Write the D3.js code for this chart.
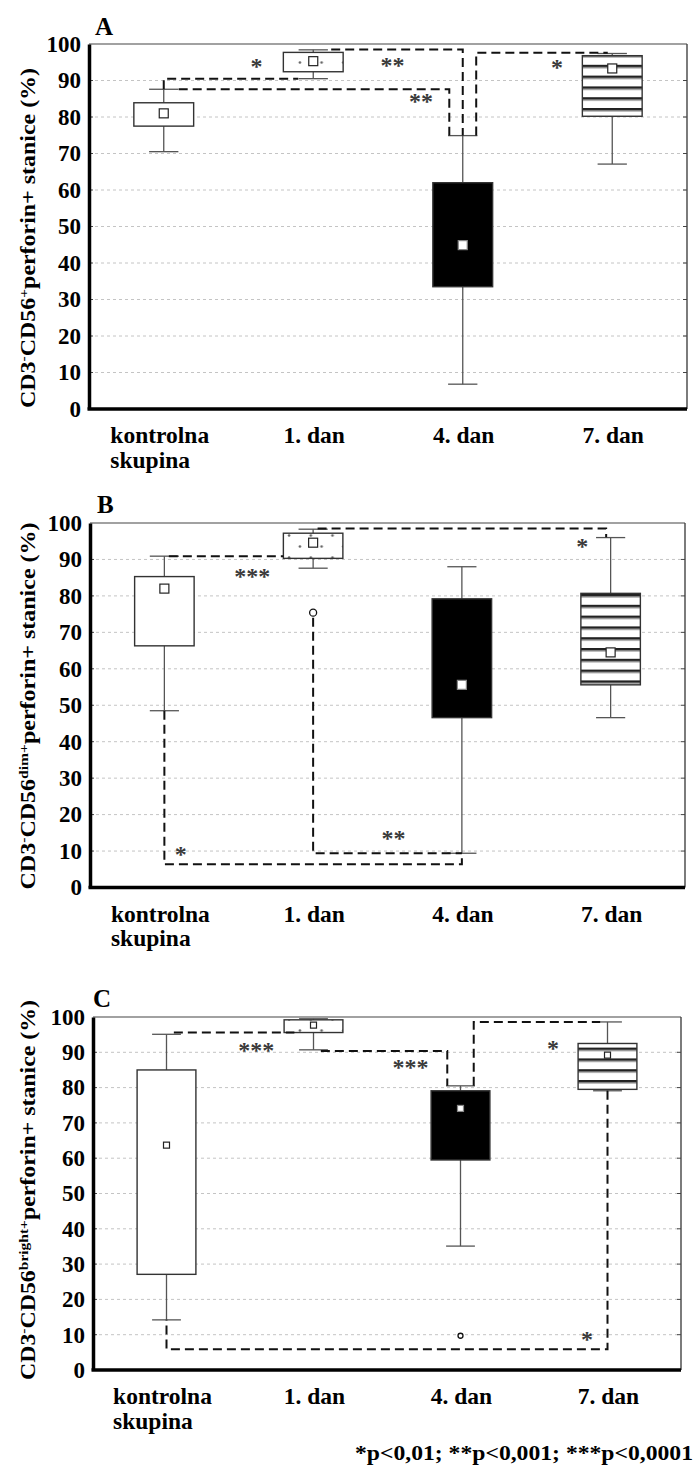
<!DOCTYPE html>
<html><head><meta charset="utf-8">
<script src="https://cdn.jsdelivr.net/npm/d3@7"></script>
<style>body{margin:0;background:#fff}svg{display:block}</style>
</head><body>
<svg id="chart" width="695" height="1467"></svg>
<script>
// ---------- DATA ----------
const categories = ["kontrolna skupina", "1. dan", "4. dan", "7. dan"];
const yTicks = [0, 10, 20, 30, 40, 50, 60, 70, 80, 90, 100];

// Panel A: CD3-CD56+perforin+
const aLow  = [70.5, 90.5, 6.8, 67.1];
const aQ1   = [77.5, 92.4, 33.5, 80.2];
const aQ3   = [83.9, 97.7, 62.0, 96.8];
const aHigh = [87.6, 98.4, 74.9, 97.4];
const aMean = [81.0, 95.3, 44.9, 93.3];
const aOutliers = [];
// brackets: path in [category index, value], mark at [category index, value]
const aBrackets = [
  {path: [[0, 87.6], [0, 90.5], [0.9, 90.5]], mark: "*", at: [0.62, 94.8]},
  {path: [[0.1, 87.6], [1.91, 87.6], [1.91, 74.9]], mark: "**", at: [1.72, 85.2]},
  {path: [[1.12, 98.5], [2.0, 98.5], [2.0, 74.9]], mark: "**", at: [1.53, 95.1]},
  {path: [[2.09, 74.9], [2.09, 97.6], [2.97, 97.6]], mark: "*", at: [2.63, 94.5]}
];

// Panel B: CD3-CD56dim+perforin+
const bLow  = [48.5, 87.6, 9.4, 46.6];
const bQ1   = [66.3, 90.3, 46.6, 55.6];
const bQ3   = [85.3, 97.2, 79.2, 80.7];
const bHigh = [90.9, 98.3, 88.0, 96.0];
const bMean = [82.0, 94.6, 55.6, 64.5];
const bOutliers = [[1, 75.4]];
const bBrackets = [
  {path: [[0.03, 90.9], [0.8, 90.9]], mark: "***", at: [0.59, 86.3]},
  {path: [[1.03, 98.5], [2.97, 98.5], [2.97, 96.1]], mark: "*", at: [2.81, 94.6]},
  {path: [[1.0, 74.0], [1.0, 9.4], [2.0, 9.4]], mark: "**", at: [1.54, 14.4]},
  {path: [[0, 48.5], [0, 6.4], [2.0, 6.4], [2.0, 9.4]], mark: "*", at: [0.11, 10.1]}
];

// Panel C: CD3-CD56bright+perforin+
const cLow  = [14.2, 90.7, 35.1, 79.1];
const cQ1   = [27.1, 95.6, 59.5, 79.5];
const cQ3   = [85.0, 99.2, 79.1, 92.5];
const cHigh = [95.1, 99.5, 80.5, 98.6];
const cMean = [63.7, 97.7, 74.1, 89.2];
const cOutliers = [[2, 9.7]];
const cBrackets = [
  {path: [[0.05, 95.6], [0.87, 95.6]], mark: "***", at: [0.61, 91.5]},
  {path: [[1.05, 90.4], [1.91, 90.4], [1.91, 80.5]], mark: "***", at: [1.66, 86.6]},
  {path: [[2.09, 80.5], [2.09, 98.6], [2.95, 98.6]], mark: "*", at: [2.63, 92.0]},
  {path: [[3.0, 79.1], [3.0, 5.9], [0, 5.9], [0, 14.2]], mark: "*", at: [2.86, 9.5]}
];

const footnote = "*p<0,01; **p<0,001; ***p<0,0001";

// ---------- LAYOUT ----------
const FONT = "'Liberation Serif','Times New Roman',serif";
const svg = d3.select("#chart");
const defs = svg.append("defs");

// dotted pattern (1. dan)
const dots = defs.append("pattern").attr("id", "dots").attr("patternUnits", "userSpaceOnUse")
  .attr("width", 21.7).attr("height", 22);
dots.append("rect").attr("width", 21.7).attr("height", 22).attr("fill", "#fff");
dots.append("circle").attr("cx", 7).attr("cy", 7.5).attr("r", 1.3).attr("fill", "#666");
dots.append("circle").attr("cx", 17.8).attr("cy", 18.5).attr("r", 1.3).attr("fill", "#666");
// striped pattern (7. dan)
const stripes = defs.append("pattern").attr("id", "stripes").attr("patternUnits", "userSpaceOnUse")
  .attr("width", 10).attr("height", 10.8);
stripes.append("rect").attr("width", 10).attr("height", 10.8).attr("fill", "#fff");
stripes.append("rect").attr("y", 0).attr("width", 10).attr("height", 2.6).attr("fill", "#222");
stripes.append("rect").attr("y", 2.6).attr("width", 10).attr("height", 1).attr("fill", "#999");

const fills = ["#fff", "url(#dots)", "#000", "url(#stripes)"];

const panels = [
  {label: "A", sup: "+", low: aLow, q1: aQ1, q3: aQ3, high: aHigh, mean: aMean, outliers: aOutliers, brackets: aBrackets,
   left: 89, right: 687, top: 44, bottom: 409, meanSize: 9, outR: 3.5, titleLen: 340, titleCenter: 238, labelX: 95, labelY: 35},
  {label: "B", sup: "dim+", low: bLow, q1: bQ1, q3: bQ3, high: bHigh, mean: bMean, outliers: bOutliers, brackets: bBrackets,
   left: 90, right: 685, top: 523, bottom: 887.5, meanSize: 9, outR: 3.5, titleLen: 367, titleCenter: 706, labelX: 97, labelY: 513},
  {label: "C", sup: "bright+", low: cLow, q1: cQ1, q3: cQ3, high: cHigh, mean: cMean, outliers: cOutliers, brackets: cBrackets,
   left: 93, right: 681, top: 1017, bottom: 1370, meanSize: 6, outR: 2.5, titleLen: 380, titleCenter: 1190, labelX: 93, labelY: 1007}
];

panels.forEach(p => {
  const g = svg.append("g");
  const x = d3.scaleBand().domain(categories).range([p.left, p.right]).paddingInner(0.6).paddingOuter(0.3);
  const bw = x.bandwidth();
  const cx = c => x(c) + bw / 2;
  const xi = d3.scaleLinear().domain([0, 1]).range([cx(categories[0]), cx(categories[1])]);
  const y = d3.scaleLinear().domain([0, 100]).range([p.bottom, p.top]);
  const inner = yTicks.filter(t => t > 0 && t < 100);

  // gridlines
  g.selectAll(".grid").data(inner).join("line")
    .attr("x1", p.left).attr("x2", p.right).attr("y1", d => y(d)).attr("y2", d => y(d))
    .attr("stroke", "#c4c4c4").attr("stroke-width", 1).attr("stroke-dasharray", "3,3");
  // right & left inner ticks
  g.selectAll(".rt").data(inner).join("line")
    .attr("x1", p.right - 4).attr("x2", p.right).attr("y1", d => y(d)).attr("y2", d => y(d))
    .attr("stroke", "#444").attr("stroke-width", 1);
  g.selectAll(".lt").data(inner).join("line")
    .attr("x1", p.left).attr("x2", p.left + 4).attr("y1", d => y(d)).attr("y2", d => y(d))
    .attr("stroke", "#444").attr("stroke-width", 1);
  // top & right border
  g.append("line").attr("x1", p.left).attr("x2", p.right).attr("y1", y(100)).attr("y2", y(100))
    .attr("stroke", "#444").attr("stroke-width", 1.2);
  g.append("line").attr("x1", p.right).attr("x2", p.right).attr("y1", y(100)).attr("y2", y(0))
    .attr("stroke", "#444").attr("stroke-width", 1.4);

  const idx = d3.range(categories.length);
  // whiskers
  g.selectAll(".wh").data(idx).join("line")
    .attr("x1", i => cx(categories[i])).attr("x2", i => cx(categories[i]))
    .attr("y1", i => y(p.low[i])).attr("y2", i => y(p.high[i]))
    .attr("stroke", "#555").attr("stroke-width", 1.3);
  g.selectAll(".capH").data(idx).join("line")
    .attr("x1", i => cx(categories[i]) - bw * 0.245).attr("x2", i => cx(categories[i]) + bw * 0.245)
    .attr("y1", i => y(p.high[i])).attr("y2", i => y(p.high[i]))
    .attr("stroke", "#555").attr("stroke-width", 1.3);
  g.selectAll(".capL").data(idx).join("line")
    .attr("x1", i => cx(categories[i]) - bw * 0.245).attr("x2", i => cx(categories[i]) + bw * 0.245)
    .attr("y1", i => y(p.low[i])).attr("y2", i => y(p.low[i]))
    .attr("stroke", "#555").attr("stroke-width", 1.3);
  g.selectAll(".box").data(idx).join("rect")
    .attr("x", i => x(categories[i])).attr("width", bw)
    .attr("y", i => y(p.q3[i])).attr("height", i => y(p.q1[i]) - y(p.q3[i]))
    .attr("fill", i => fills[i]).attr("stroke", "#333").attr("stroke-width", 1.4);
  // means
  g.selectAll(".mean").data(idx).join("rect")
    .attr("x", i => cx(categories[i]) - p.meanSize / 2).attr("y", i => y(p.mean[i]) - p.meanSize / 2)
    .attr("width", p.meanSize).attr("height", p.meanSize)
    .attr("fill", "#fff").attr("stroke", i => i === 2 ? "#888" : "#222").attr("stroke-width", 1.2);

  // brackets
  const line = d3.line().x(d => xi(d[0])).y(d => y(d[1]));
  g.selectAll(".br").data(p.brackets).join("path")
    .attr("d", d => line(d.path)).attr("fill", "none")
    .attr("stroke", "#111").attr("stroke-width", 2).attr("stroke-dasharray", "9,5");
  g.selectAll(".mk").data(p.brackets).join("text")
    .attr("x", d => xi(d.at[0])).attr("y", d => y(d.at[1]) + 11)
    .attr("text-anchor", "middle").attr("font-family", FONT).attr("font-size", 24).attr("font-weight", "bold")
    .attr("fill", "#3a3a3a").text(d => d.mark);

  // outliers
  g.selectAll(".out").data(p.outliers).join("circle")
    .attr("cx", d => xi(d[0])).attr("cy", d => y(d[1])).attr("r", p.outR)
    .attr("fill", "#fff").attr("stroke", "#111").attr("stroke-width", 1.3);

  // left axis
  const ya = g.append("g").attr("transform", `translate(${p.left},0)`)
    .call(d3.axisLeft(y).tickValues(yTicks).tickSize(0).tickSizeOuter(0).tickPadding(8));
  ya.select(".domain").attr("stroke", "#000").attr("stroke-width", 3.5);
  ya.selectAll("text").attr("font-family", FONT).attr("font-size", 23).attr("font-weight", "bold").attr("fill", "#000");
  // bottom axis
  const xa = g.append("g").attr("transform", `translate(0,${p.bottom})`)
    .call(d3.axisBottom(x).tickSize(0).tickSizeOuter(0).tickFormat(""));
  xa.select(".domain").attr("stroke", "#000").attr("stroke-width", 3.5)
    .attr("d", `M${p.left - 1.5},0H${p.right}`);
  // category labels
  categories.forEach((c, i) => {
    const words = c.length > 10 ? c.split(" ") : [c];
    const t = g.append("text").attr("font-family", FONT).attr("font-size", 23.5).attr("font-weight", "bold")
      .attr("fill", "#000");
    words.forEach((w, k) => {
      t.append("tspan").attr("y", p.bottom + 34 + k * 24.5).text(w);
    });
    const first = t.select("tspan").node().getComputedTextLength();
    t.selectAll("tspan").attr("x", cx(c) - first / 2 - (words.length > 1 ? 4 : -1));
  });

  // y title
  const tt = g.append("text").attr("transform", `translate(35,${p.titleCenter}) rotate(-90)`)
    .attr("text-anchor", "middle").attr("font-family", FONT).attr("font-size", 20).attr("font-weight", "bold")
    .attr("textLength", p.titleLen).attr("lengthAdjust", "spacingAndGlyphs");
  tt.append("tspan").text("CD3");
  tt.append("tspan").attr("dy", -7).attr("font-size", 13).text("-");
  tt.append("tspan").attr("dy", 7).text("CD56");
  tt.append("tspan").attr("dy", -7).attr("font-size", 13).text(p.sup);
  tt.append("tspan").attr("dy", 7).text("perforin+ stanice (%)");

  // panel label
  g.append("text").attr("x", p.labelX).attr("y", p.labelY).attr("font-family", FONT)
    .attr("font-size", 25).attr("font-weight", "bold").text(p.label);
});

svg.append("text").attr("x", 693).attr("y", 1460).attr("text-anchor", "end")
  .attr("font-family", FONT).attr("font-size", 22).attr("font-weight", "bold")
  .attr("textLength", 338).attr("lengthAdjust", "spacingAndGlyphs").text(footnote);
</script>
</body></html>
